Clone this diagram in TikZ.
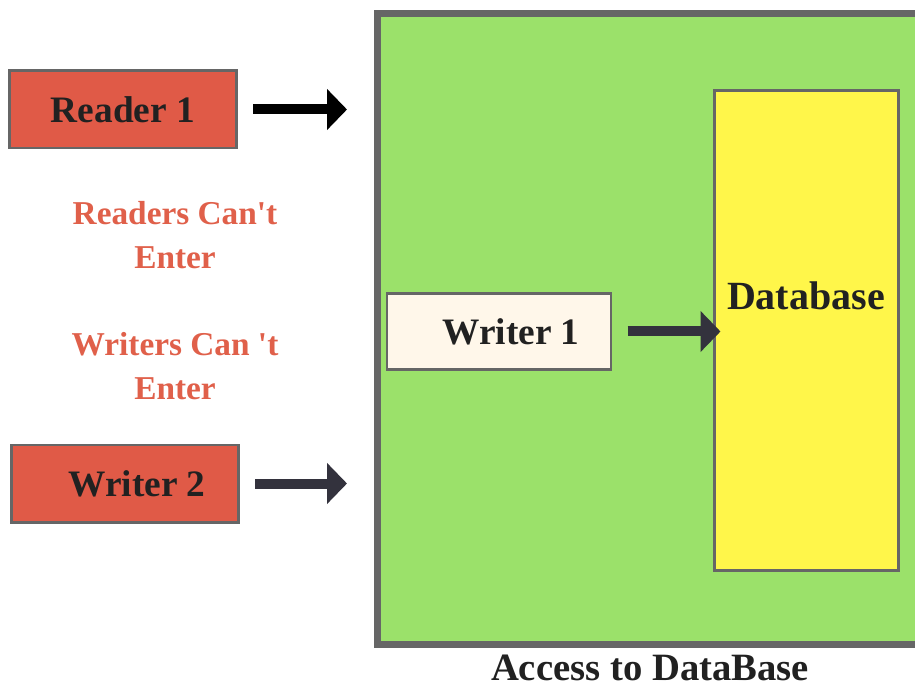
\documentclass[tikz,border=0pt]{standalone}
\usepackage{fontspec}
\setmainfont{Liberation Serif}
\usetikzlibrary{arrows.meta}
\definecolor{rwred}{HTML}{E05A47}
\definecolor{rwtext}{HTML}{E0604A}
\definecolor{rwgreen}{HTML}{9BE16A}
\definecolor{rwyellow}{HTML}{FFF64A}
\definecolor{rwcream}{HTML}{FFF7EA}
\definecolor{rwedge}{HTML}{666666}
\definecolor{rwdark}{HTML}{33323D}
\begin{document}
\begin{tikzpicture}[x=0.75pt,y=-0.75pt,
  box/.style={draw=rwedge,line width=2pt,minimum width=170pt,minimum height=58pt,inner sep=0pt,text=black!87,font=\fontsize{28}{30}\selectfont\bfseries},
  flow/.style={line width=7.5pt,-{Triangle[length=15pt,width=30pt]},shorten <=11.5pt},
  warn/.style={text=rwtext,align=center,font=\fontsize{25}{33}\selectfont\bfseries}]
\clip (0,0) rectangle (915,688);
\fill[white] (0,0) rectangle (915,688);
% access area
\draw[rwedge,fill=rwgreen,line width=5.25pt] (377,14) rectangle (950,644);
\node[draw=rwedge,fill=rwyellow,line width=2.25pt,minimum width=138pt,minimum height=360pt] (database) at (806,330.5) {};
\node[text=black!87,font=\fontsize{30}{32}\selectfont\bfseries] (dblabel) at (806,296) {Database};
\node[box,fill=rwcream,minimum width=168pt,minimum height=57pt] (writer1) at (499,331.5) {\hspace*{18pt}Writer 1};
\draw[flow,rwdark,shorten >=-6pt] (writer1.east) -- (writer1.east -| database.west);
\node[text=black!87,font=\fontsize{29}{32}\selectfont\bfseries,anchor=base] (caption) at (650,680) {Access to DataBase};
% waiting side
\node[box,fill=rwred] (reader1) at (123,109.5) {Reader 1};
\coordinate (r1tip) at (347,109.5);
\draw[flow,black] (reader1.east) -- (r1tip);
\node[warn] (nor) at (175,235) {Readers Can\textquotesingle t\\Enter};
\node[warn] (now) at (175,366) {Writers Can \textquotesingle t\\Enter};
\node[box,fill=rwred] (writer2) at (125,483.5) {\hspace*{18pt}Writer 2};
\coordinate (w2tip) at (347,483.5);
\draw[flow,rwdark] (writer2.east) -- (w2tip);
\end{tikzpicture}
\end{document}
